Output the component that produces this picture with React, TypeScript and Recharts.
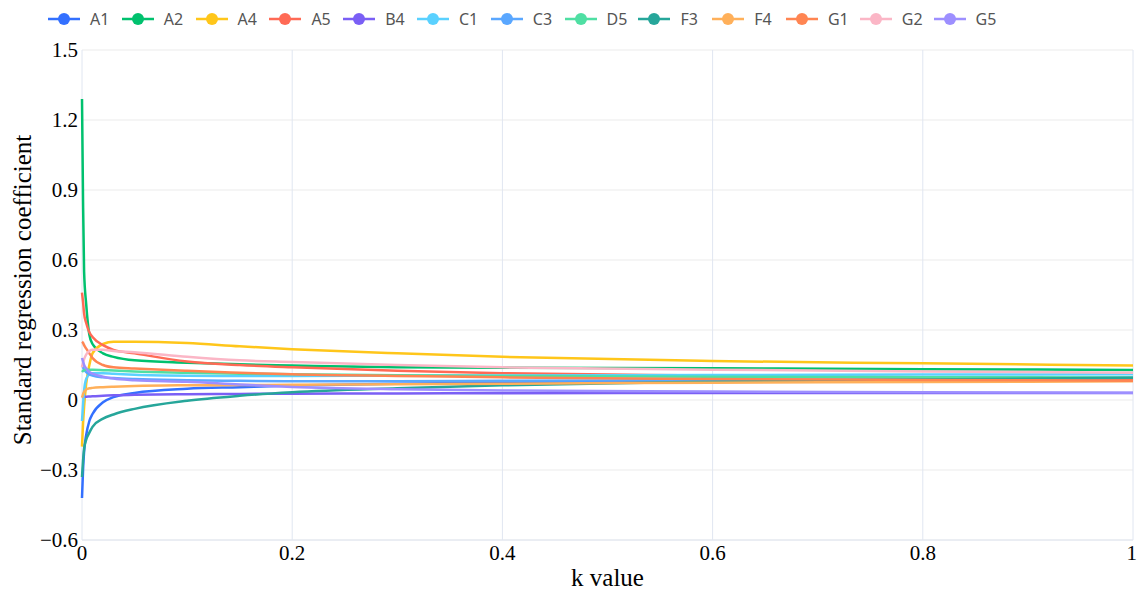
import React from 'react';
import { LineChart, Line, XAxis, YAxis, CartesianGrid } from 'recharts';

// k values (x axis), denser near 0 where the curves change fast
const kValues = [0, 0.001, 0.002, 0.004, 0.007, 0.01, 0.02, 0.03, 0.05, 0.1, 0.15, 0.2, 0.3, 0.4, 0.6, 0.8, 1];

const A1 = [-0.42, -0.3, -0.22, -0.15, -0.09, -0.06, -0.01, 0.012, 0.03, 0.048, 0.055, 0.062, 0.07, 0.075, 0.08, 0.083, 0.085];
const A2 = [1.29, 0.85, 0.55, 0.41, 0.28, 0.24, 0.2, 0.185, 0.17, 0.16, 0.153, 0.148, 0.14, 0.138, 0.136, 0.132, 0.129];
const A4 = [-0.2, -0.1, -0.03, 0.07, 0.15, 0.2, 0.24, 0.25, 0.25, 0.244, 0.23, 0.218, 0.2, 0.185, 0.167, 0.157, 0.148];
const A5 = [0.46, 0.42, 0.37, 0.33, 0.29, 0.27, 0.235, 0.215, 0.2, 0.165, 0.15, 0.14, 0.125, 0.115, 0.105, 0.097, 0.09];
const B4 = [0.01, 0.012, 0.013, 0.014, 0.015, 0.016, 0.018, 0.02, 0.022, 0.025, 0.026, 0.027, 0.028, 0.029, 0.03, 0.03, 0.03];
const C1 = [-0.09, -0.02, 0.04, 0.09, 0.11, 0.115, 0.115, 0.112, 0.108, 0.104, 0.103, 0.103, 0.104, 0.105, 0.107, 0.109, 0.11];
const C3 = [0.15, 0.14, 0.13, 0.12, 0.11, 0.105, 0.097, 0.094, 0.09, 0.085, 0.082, 0.08, 0.08, 0.082, 0.086, 0.09, 0.095];
const D5 = [0.12, 0.125, 0.128, 0.13, 0.13, 0.13, 0.128, 0.126, 0.122, 0.117, 0.113, 0.11, 0.106, 0.103, 0.1, 0.098, 0.096];
const F3 = [-0.33, -0.26, -0.21, -0.17, -0.14, -0.115, -0.08, -0.062, -0.038, -0.003, 0.018, 0.033, 0.05, 0.063, 0.078, 0.088, 0.095];
const F4 = [0.01, 0.025, 0.035, 0.045, 0.05, 0.052, 0.055, 0.057, 0.06, 0.063, 0.064, 0.065, 0.068, 0.07, 0.074, 0.077, 0.08];
const G1 = [0.25, 0.245, 0.235, 0.22, 0.2, 0.18, 0.15, 0.14, 0.135, 0.125, 0.117, 0.11, 0.103, 0.097, 0.09, 0.086, 0.083];
const G2 = [0.14, 0.16, 0.175, 0.195, 0.21, 0.215, 0.215, 0.21, 0.205, 0.185, 0.17, 0.163, 0.15, 0.14, 0.13, 0.122, 0.117];
const G5 = [0.18, 0.165, 0.15, 0.135, 0.12, 0.113, 0.1, 0.092, 0.085, 0.078, 0.066, 0.056, 0.046, 0.041, 0.036, 0.033, 0.031];

const seriesNames = ['A1', 'A2', 'A4', 'A5', 'B4', 'C1', 'C3', 'D5', 'F3', 'F4', 'G1', 'G2', 'G5'];
const seriesValues = [A1, A2, A4, A5, B4, C1, C3, D5, F3, F4, G1, G2, G5];
const colors = ['#3370FF', '#00C16E', '#FFC61A', '#FF6A55', '#7A5FF5', '#5AD1FF', '#5AA7FF', '#4FDFA3', '#26A69A', '#FFB05A', '#FF8552', '#FBB6C6', '#9D8FFF'];

const xTicks = [0, 0.2, 0.4, 0.6, 0.8, 1];
const yTicks = [-0.6, -0.3, 0, 0.3, 0.6, 0.9, 1.2, 1.5];

const data = kValues.map((k, i) => {
  const row: Record<string, number> = { k };
  seriesNames.forEach((name, s) => {
    row[name] = seriesValues[s][i];
  });
  return row;
});

const serif = '"Liberation Serif", "Times New Roman", serif';
const fmt = (v: number) => (v < 0 ? '\u2212' + Math.abs(v) : String(v));

const LegendRow = () => (
  <div
    style={{
      position: 'absolute',
      left: 48,
      top: 9,
      display: 'flex',
      fontFamily: '"Noto Sans", sans-serif',
      fontSize: 16,
      color: '#555',
      lineHeight: '20px',
    }}
  >
    {seriesNames.map((name, i) => (
      <div key={name} style={{ display: 'flex', alignItems: 'center', width: 73.8 }}>
        <svg width={32} height={20} style={{ marginRight: 10 }}>
          <line x1={0} y1={10} x2={32} y2={10} stroke={colors[i]} strokeWidth={2.5} />
          <circle cx={16} cy={10} r={6} fill={colors[i]} />
        </svg>
        <span>{name}</span>
      </div>
    ))}
  </div>
);

export default function App() {
  return (
    <div style={{ position: 'absolute', left: 0, top: 0, width: 1137, height: 592, background: '#fff' }}>
      <LegendRow />
      <LineChart width={1137} height={592} data={data} margin={{ top: 50, right: 4, bottom: 0, left: 0 }}>
        <CartesianGrid horizontal={true} vertical={false} stroke="#EBEBEB" />
        <CartesianGrid horizontal={false} vertical={true} stroke="#E0E6F1" />
        <XAxis
          dataKey="k"
          type="number"
          domain={[0, 1]}
          ticks={xTicks}
          height={52}
          tickLine={false}
          tickSize={0}
          tickMargin={5}
          axisLine={{ stroke: '#E0E6F1' }}
          tick={{ fill: '#000', fontSize: 21, fontFamily: serif }}
          label={{
            value: 'k value',
            position: 'insideBottom',
            offset: 6,
            fill: '#000',
            fontSize: 25,
            fontFamily: serif,
          }}
        />
        <YAxis
          type="number"
          domain={[-0.6, 1.5]}
          ticks={yTicks}
          width={82}
          tickLine={false}
          axisLine={false}
          tickSize={0}
          tickMargin={4}
          tickFormatter={fmt}
          tick={{ fill: '#000', fontSize: 21, fontFamily: serif }}
          label={{
            content: () => (
              <text
                x={22}
                y={290}
                transform="rotate(-90 22 290)"
                textAnchor="middle"
                dominantBaseline="central"
                fill="#000"
                fontSize={25}
                fontFamily={serif}
              >
                Standard regression coefficient
              </text>
            ),
          }}
        />
        {seriesNames.map((name, i) => (
          <Line
            key={name}
            type="monotone"
            dataKey={name}
            stroke={colors[i]}
            strokeWidth={2.5}
            dot={false}
            isAnimationActive={false}
          />
        ))}
      </LineChart>
    </div>
  );
}
